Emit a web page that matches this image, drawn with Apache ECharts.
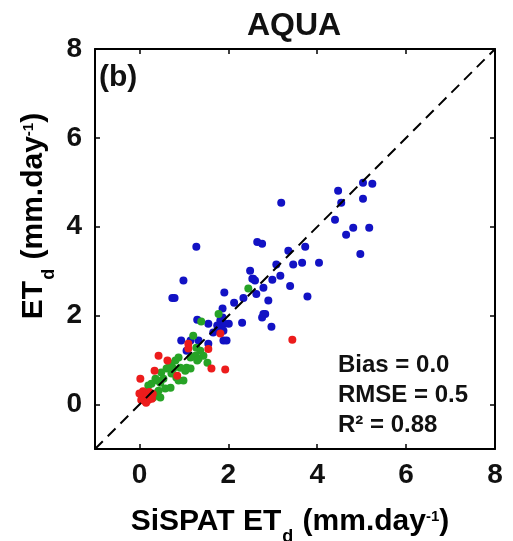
<!DOCTYPE html>
<html>
<head>
<meta charset="utf-8">
<script src="https://cdn.jsdelivr.net/npm/echarts@6/dist/echarts.min.js"></script>
<style>html,body{margin:0;padding:0;background:#fff}#c{width:513px;height:541px}</style>
</head>
<body>
<div id="c"></div>
<script>
// ---- data ----
var titleText = 'AQUA';
var panelLabel = '(b)';
var statsLines = ['Bias = 0.0', 'RMSE = 0.5', 'R\u00b2 = 0.88'];
var tickValues = [0, 2, 4, 6, 8];
var axisMin = -1, axisMax = 8;
var oneToOne = [[-1, -1], [8, 8]];

var bluePoints = [
  [3.19,4.54],[4.47,4.81],[5.03,4.99],[5.24,4.97],[4.54,4.54],[5.03,4.63],[4.40,4.16],
  [4.81,3.98],[5.17,3.98],[4.65,3.82],[4.97,3.39],[2.65,3.66],[2.76,3.62],[3.35,3.46],
  [3.73,3.55],[3.08,3.15],[3.46,3.15],[3.66,3.19],[4.04,3.19],[2.56,2.83],[2.49,3.01],
  [3.17,2.90],[2.99,2.81],[2.79,2.63],[2.63,2.49],[3.39,2.67],[3.78,2.43],[2.90,2.34],
  [2.79,2.04],[2.83,2.04],[2.76,1.96],[2.97,1.75],[1.28,3.55],[0.99,2.79],[0.74,2.40],
  [0.79,2.40],[1.91,2.52],[2.34,2.40],[2.13,2.29],[2.54,2.83],[2.60,2.79],[1.30,1.91],
  [1.55,1.82],[1.87,2.16],[1.87,1.96],[1.82,1.89],[2.01,1.82],[1.91,1.82],[1.75,1.78],
  [2.31,1.84],[1.66,1.62],[1.89,1.44],[0.94,1.44],[1.15,1.44],[1.33,1.44],[1.55,1.37],
  [1.06,1.21],[1.78,1.71],[1.89,1.66],[1.96,1.44]
];
var greenPoints = [
  [2.45,2.61],[1.39,1.87],[1.78,2.04],[1.21,1.55],[1.28,1.28],[1.37,1.21],[1.44,1.10],
  [1.26,1.10],[1.33,1.03],[1.15,1.06],[0.88,1.06],[0.81,0.99],[0.72,0.92],[0.61,0.81],
  [0.49,0.72],[1.06,0.83],[1.15,0.81],[1.03,0.76],[0.76,0.81],[0.72,0.70],[0.83,0.61],
  [0.88,0.54],[0.54,0.58],[0.47,0.49],[0.36,0.58],[0.27,0.47],[0.20,0.43],[0.70,0.38],
  [0.58,0.36],[0.43,0.31],[0.36,0.25],[0.47,0.16],[0.20,0.27],[0.31,0.16],[0.99,0.54],
  [1.30,0.99],[1.53,0.94],[0.65,0.83],[0.92,0.83],[0.40,0.54]
];
var redPoints = [
  [3.44,1.46],[1.82,1.60],[0.43,1.10],[0.02,0.58],[0.34,0.76],[0.63,0.99],[0.85,0.65],
  [1.62,0.81],[1.93,0.79],[1.10,1.37],[1.10,1.26],[1.55,1.25],
  [0.05,0.20],[0.10,0.15],[0.15,0.25],[0.20,0.10],[0.25,0.20],[0.08,0.30],[0.12,0.08],
  [0.18,0.18],[0.22,0.28],[0.30,0.24],[0.04,0.10],[0.15,0.04],[0.28,0.13],[0.00,0.25]
];

// ---- chart ----
var FONT = '"Liberation Sans", Arial, sans-serif';
var chart = echarts.init(document.getElementById('c'), null, {renderer: 'canvas'});

function xAx(pos, showLabel) {
  return {
    type: 'value', position: pos, min: axisMin, max: axisMax,
    splitLine: {show: false},
    axisLine: {show: true, onZero: false, lineStyle: {color: '#000', width: 2}},
    axisTick: {show: true, inside: true, length: 5, customValues: tickValues, lineStyle: {color: '#000', width: 1.5}},
    axisLabel: {show: showLabel, customValues: tickValues, margin: 12, color: '#111',
      fontFamily: FONT, fontWeight: 'bold', fontSize: 28}
  };
}
var nameRich = {
  m: {fontFamily: FONT, fontWeight: 'bold', fontSize: 30, lineHeight: 32, verticalAlign: 'top', color: '#111'},
  s: {fontFamily: FONT, fontWeight: 'bold', fontSize: 18, lineHeight: 18, verticalAlign: 'top', padding: [21, 1, 0, 1], color: '#111'},
  p: {fontFamily: FONT, fontWeight: 'bold', fontSize: 15, lineHeight: 15, verticalAlign: 'top', padding: [2, 0, 0, 0], color: '#111'}
};
var option = {
  backgroundColor: '#fff',
  animation: false,
  grid: {left: 95, right: 18, top: 49, bottom: 92, show: false},
  xAxis: [xAx('bottom', true), xAx('top', false)],
  yAxis: [
    Object.assign(xAx('left', true), {axisLabel: {show: true, customValues: tickValues, margin: 13, color: '#111', fontFamily: FONT, fontWeight: 'bold', fontSize: 28}}),
    xAx('right', false)
  ],
  series: [
    {type: 'scatter', data: bluePoints, symbolSize: 8, itemStyle: {color: '#1212c4', opacity: 1}, z: 2},
    {type: 'scatter', data: greenPoints, symbolSize: 8, itemStyle: {color: '#27a326', opacity: 1}, z: 3},
    {type: 'scatter', data: redPoints, symbolSize: 8, itemStyle: {color: '#ec1c1c', opacity: 1}, z: 4},
    {type: 'line', data: oneToOne, symbol: 'none', silent: true, z: 5,
      lineStyle: {color: '#000', width: 2, type: [11, 7]}}
  ],
  graphic: [
    {type: 'text', x: 294, y: 26, style: {text: titleText, font: 'bold 32px ' + FONT, fill: '#111', align: 'center', verticalAlign: 'middle'}},
    {type: 'text', x: 99, y: 78, style: {text: panelLabel, font: 'bold 30px ' + FONT, fill: '#111', align: 'left', verticalAlign: 'middle'}},
    {type: 'text', x: 338, y: 365, style: {text: statsLines[0], font: 'bold 24px ' + FONT, fill: '#111', align: 'left', verticalAlign: 'middle'}},
    {type: 'text', x: 338, y: 395, style: {text: statsLines[1], font: 'bold 24px ' + FONT, fill: '#111', align: 'left', verticalAlign: 'middle'}},
    {type: 'text', x: 338, y: 425, style: {text: statsLines[2], font: 'bold 24px ' + FONT, fill: '#111', align: 'left', verticalAlign: 'middle'}},
    {type: 'text', x: 290, y: 523, style: {text: '{m|SiSPAT ET}{s|d}{m| (mm.day}{p|-1}{m|)}', rich: nameRich, align: 'center', verticalAlign: 'middle'}},
    {type: 'text', x: 35, y: 216, rotation: Math.PI / 2, style: {text: '{m|ET}{s|d}{m| (mm.day}{p|-1}{m|)}', rich: nameRich, align: 'center', verticalAlign: 'middle'}}
  ]
};
chart.setOption(option);
</script>
</body>
</html>
